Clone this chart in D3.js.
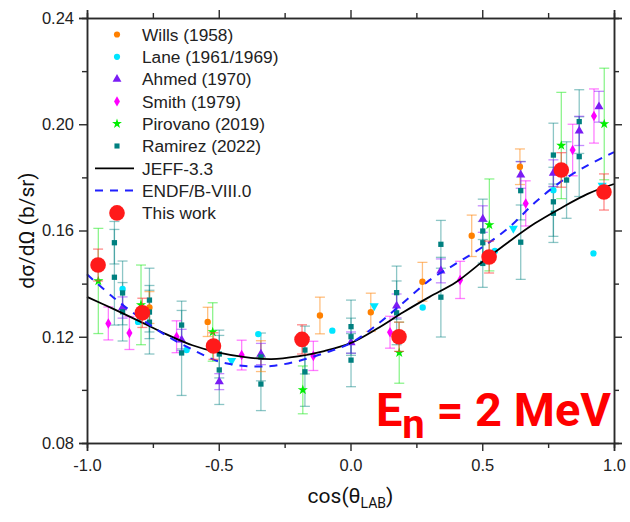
<!DOCTYPE html>
<html><head><meta charset="utf-8">
<script src="https://cdn.jsdelivr.net/npm/d3@7"></script>
<style>body{margin:0;background:#fff}svg{display:block}</style>
</head><body>
<svg id="c" width="630" height="522"></svg>
<script>
// ---------- data ----------
const xTicks = [-1.0, -0.5, 0.0, 0.5, 1.0];
const yTicks = [0.08, 0.12, 0.16, 0.20, 0.24];

const willsX = [-0.763, -0.542, -0.34, -0.116, 0.077, 0.273, 0.46, 0.643];
const willsY = [0.131, 0.1256, 0.1127, 0.128, 0.1292, 0.1407, 0.158, 0.184];
const willsE = [0.006, 0.0055, 0.0058, 0.0069, 0.0072, 0.0073, 0.0078, 0.0067];

const laneX = [-0.865, -0.806, -0.622, -0.35, -0.069, 0.274, 0.548, 0.77, 0.922];
const laneY = [0.138, 0.1256, 0.115, 0.121, 0.1223, 0.131, 0.1523, 0.1752, 0.1514];
const lane69X = [-0.451, 0.09, 0.618, 0.955];
const lane69Y = [0.111, 0.1316, 0.1608, 0.177];

const ahmedX = [-0.865, -0.641, -0.498, -0.34, 0.002, 0.175, 0.343, 0.502, 0.646, 0.77, 0.868, 0.943];
const ahmedY = [0.131, 0.1188, 0.1031, 0.1135, 0.1178, 0.1316, 0.1448, 0.1643, 0.1809, 0.1816, 0.1975, 0.2066];
const ahmedE = [0.004, 0.004, 0.003, 0.004, 0.004, 0.0045, 0.0045, 0.005, 0.005, 0.005, 0.0055, 0.0058];

const smithX = [-0.919, -0.839, -0.66, -0.413, -0.141, 0.15, 0.416, 0.665, 0.843, 0.924];
const smithY = [0.125, 0.1214, 0.12, 0.1131, 0.1128, 0.1217, 0.1414, 0.1702, 0.1903, 0.2031];
const smithE = [0.0062, 0.0062, 0.006, 0.0056, 0.0055, 0.006, 0.007, 0.0085, 0.0097, 0.0102];

const piroX = [-0.957, -0.795, -0.523, -0.181, 0.185, 0.527, 0.80, 0.963];
const piroY = [0.141, 0.132, 0.1218, 0.100, 0.114, 0.1621, 0.192, 0.2001];
const piroE = [0.0198, 0.015, 0.011, 0.009, 0.0115, 0.0173, 0.02, 0.021];

const ramX = [-0.896, -0.896, -0.865, -0.865, -0.763, -0.763, -0.763, -0.641, -0.641, -0.498, -0.498,
              -0.34, -0.34, -0.173, -0.173, 0.002, 0.002, 0.002, 0.175, 0.175, 0.343, 0.343,
              0.502, 0.502, 0.502, 0.646, 0.646, 0.77, 0.77, 0.77, 0.82, 0.868, 0.868];
const ramY = [0.1554, 0.1424, 0.1365, 0.1294, 0.1338, 0.1293, 0.1255, 0.1244, 0.1139, 0.1135, 0.1075,
              0.1124, 0.1022, 0.115, 0.1068, 0.1238, 0.12, 0.1112, 0.1366, 0.129, 0.1548, 0.1349,
              0.1598, 0.1554, 0.1476, 0.175, 0.1556, 0.1884, 0.1708, 0.1665, 0.179, 0.201, 0.1878];
const ramE = [0.008, 0.018, 0.012, 0.011, 0.012, 0.010, 0.012, 0.009, 0.016, 0.009, 0.013,
              0.009, 0.010, 0.009, 0.013, 0.010, 0.007, 0.010, 0.010, 0.012, 0.009, 0.015,
              0.012, 0.008, 0.009, 0.011, 0.014, 0.012, 0.013, 0.011, 0.0144, 0.012, 0.015];

const workX = [-0.958, -0.79, -0.52, -0.184, 0.184, 0.526, 0.80, 0.962];
const workY = [0.147, 0.129, 0.1165, 0.119, 0.120, 0.150, 0.1828, 0.1745];
const workE = [0.006, 0.0055, 0.005, 0.0055, 0.0055, 0.006, 0.0065, 0.0068];

const curveX = [-1, -0.9, -0.8, -0.7, -0.6, -0.5, -0.4, -0.3, -0.2, -0.1, 0, 0.1, 0.2, 0.3, 0.4, 0.5, 0.6, 0.7, 0.8, 0.9, 1.0];
const jeffY  = [0.135, 0.1305, 0.1258, 0.1210, 0.1168, 0.1140, 0.1123, 0.1116, 0.1126, 0.1146, 0.1176, 0.1230, 0.1292, 0.1350, 0.1405, 0.1482, 0.1557, 0.1627, 0.1685, 0.1738, 0.1775];
const endfY  = [0.1435, 0.1348, 0.1272, 0.1205, 0.1152, 0.1107, 0.1090, 0.1090, 0.1108, 0.1138, 0.1176, 0.1245, 0.1328, 0.1413, 0.1475, 0.1537, 0.1610, 0.1705, 0.1785, 0.1845, 0.1895];

// ---------- layout ----------
const svg = d3.select("#c");
const L = 87, R = 614, T = 18, B = 443;
const x = d3.scaleLinear().domain([-1, 1]).range([L, R]);
const y = d3.scaleLinear().domain([0.08, 0.24]).range([B, T]);
const frame = "#2a2a2a";
const tickFont = "'Liberation Sans', Arial, sans-serif";

const zip = (xs, ys, es) => xs.map((v, i) => ({x: v, y: ys[i], e: es ? es[i] : 0}));

function errBars(data, color, cap) {
  const g = svg.append("g").attr("stroke", color).attr("stroke-width", 1.3).attr("fill", "none");
  data.forEach(d => {
    const xp = x(d.x), y1 = y(d.y - d.e), y2 = y(d.y + d.e);
    g.append("line").attr("x1", xp).attr("x2", xp).attr("y1", y1).attr("y2", y2);
    g.append("line").attr("x1", xp - cap).attr("x2", xp + cap).attr("y1", y1).attr("y2", y1);
    g.append("line").attr("x1", xp - cap).attr("x2", xp + cap).attr("y1", y2).attr("y2", y2);
  });
}
function marks(data, type, size, color, rot) {
  const sym = d3.symbol().type(type).size(size);
  svg.append("g").selectAll("path").data(data).join("path")
    .attr("d", sym)
    .attr("transform", d => `translate(${x(d.x)},${y(d.y)})${rot ? " rotate(" + rot + ")" : ""}`)
    .attr("fill", color);
}

// ---------- error bars ----------
const ram = zip(ramX, ramY, ramE);
const piro = zip(piroX, piroY, piroE);
const wills = zip(willsX, willsY, willsE);
const smith = zip(smithX, smithY, smithE);
const ahmed = zip(ahmedX, ahmedY, ahmedE);
errBars(ram, "rgba(0,128,128,0.45)", 5);
errBars(piro, "rgba(0,230,0,0.45)", 5);
errBars(wills, "rgba(255,128,0,0.5)", 5);
errBars(smith, "rgba(255,0,255,0.5)", 5);
errBars(ahmed, "rgba(128,0,255,0.45)", 5);

// ---------- markers ----------
marks(wills, d3.symbolCircle, 32, "#ff8000");
marks(zip(laneX, laneY), d3.symbolCircle, 32, "#00e5ff");
marks(zip(lane69X, lane69Y), d3.symbolTriangle, 36, "#00e5ff", 180);
marks(ahmed, d3.symbolTriangle, 36, "#7a1cf5");
marks(smith, d3.symbolDiamond, 32, "#ff00ff");
marks(piro, d3.symbolStar, 32, "#00ee00");
marks(ram, d3.symbolSquare, 28, "#008080");

// ---------- curves ----------
const line = d3.line().x(d => x(d.x)).y(d => y(d.y)).curve(d3.curveCatmullRom);
svg.append("path").attr("d", line(zip(curveX, jeffY))).attr("fill", "none")
  .attr("stroke", "#000").attr("stroke-width", 1.8);
svg.append("path").attr("d", line(zip(curveX, endfY))).attr("fill", "none")
  .attr("stroke", "#1f1fff").attr("stroke-width", 2).attr("stroke-dasharray", "8,7");

// ---------- this work ----------
const work = zip(workX, workY, workE);
errBars(work, "rgba(255,60,60,0.6)", 5);
svg.append("g").selectAll("circle").data(work).join("circle")
  .attr("cx", d => x(d.x)).attr("cy", d => y(d.y)).attr("r", 7.8).attr("fill", "#ff1a1a");

// ---------- axes ----------
function axisG(axis, tr) {
  const g = svg.append("g").attr("transform", tr).call(axis);
  g.selectAll("path.domain").attr("stroke", frame).attr("stroke-width", 1.5);
  g.selectAll(".tick line").attr("stroke", frame).attr("stroke-width", 1.4);
  g.selectAll(".tick text").attr("font-family", tickFont).attr("font-size", 16.5).attr("fill", "#222");
  return g;
}
const xMinor = [-0.75, -0.25, 0.25, 0.75], yMinor = [0.10, 0.14, 0.18, 0.22];
axisG(d3.axisBottom(x).tickValues(xTicks).tickFormat(d3.format(".1f")).tickSizeOuter(0).tickSize(8).tickPadding(8), `translate(0,${B})`)
  .selectAll(".tick text").text(d => d3.format(".1f")(d).replace("−", "-"));
axisG(d3.axisBottom(x).tickValues(xMinor).tickFormat("").tickSizeOuter(0).tickSize(5), `translate(0,${B})`);
axisG(d3.axisTop(x).tickValues(xTicks).tickFormat("").tickSizeOuter(0).tickSize(8), `translate(0,${T})`);
axisG(d3.axisTop(x).tickValues(xMinor).tickFormat("").tickSizeOuter(0).tickSize(5), `translate(0,${T})`);
axisG(d3.axisLeft(y).tickValues(yTicks).tickFormat(d3.format(".2f")).tickSizeOuter(0).tickSize(8).tickPadding(5), `translate(${L},0)`);
axisG(d3.axisLeft(y).tickValues(yMinor).tickFormat("").tickSizeOuter(0).tickSize(5), `translate(${L},0)`);
axisG(d3.axisRight(y).tickValues(yTicks).tickFormat("").tickSizeOuter(0).tickSize(8), `translate(${R},0)`);
axisG(d3.axisRight(y).tickValues(yMinor).tickFormat("").tickSizeOuter(0).tickSize(5), `translate(${R},0)`);

// ---------- axis titles ----------
const titleFont = "Roboto, 'Open Sans', sans-serif";
svg.append("text").attr("transform", `translate(34,${(T + B) / 2}) rotate(-90)`)
  .attr("text-anchor", "middle").attr("font-family", titleFont).attr("font-size", 21).attr("fill", "#111")
  .text("dσ/dΩ (b/sr)");
const xt = svg.append("text").attr("x", (L + R) / 2).attr("y", 503).attr("text-anchor", "middle")
  .attr("font-family", titleFont).attr("font-size", 21).attr("fill", "#111");
xt.append("tspan").text("cos(θ");
xt.append("tspan").attr("font-size", 14).attr("dy", 5).text("LAB");
xt.append("tspan").attr("dy", -5).text(")");

// ---------- energy label ----------
const en = svg.append("text").attr("x", 611).attr("y", 426).attr("text-anchor", "end")
  .attr("font-family", "Roboto, sans-serif").attr("font-weight", 700).attr("font-size", 47).attr("fill", "#ff0000");
en.append("tspan").text("E");
en.append("tspan").attr("font-size", 40).attr("dy", 12).text("n");
en.append("tspan").attr("dy", -12).text(" = 2 MeV");

// ---------- legend ----------
const legendRows = ["Wills (1958)", "Lane (1961/1969)", "Ahmed (1970)", "Smith (1979)", "Pirovano (2019)",
                    "Ramirez (2022)", "JEFF-3.3", "ENDF/B-VIII.0", "This work"];
const lg = svg.append("g");
const ly = i => 34.5 + i * 22.3;
const symX = 117, txtX = 142;
const legSyms = [
  [d3.symbolCircle, 30, "#ff8000"], [d3.symbolCircle, 30, "#00e5ff"], [d3.symbolTriangle, 34, "#7a1cf5"],
  [d3.symbolDiamond, 30, "#ff00ff"], [d3.symbolStar, 30, "#00ee00"], [d3.symbolSquare, 26, "#008080"]];
legSyms.forEach((s, i) => lg.append("path").attr("d", d3.symbol().type(s[0]).size(s[1]))
  .attr("transform", `translate(${symX},${ly(i)})`).attr("fill", s[2]));
lg.append("line").attr("x1", 95).attr("x2", 134).attr("y1", ly(6)).attr("y2", ly(6)).attr("stroke", "#000").attr("stroke-width", 1.8);
lg.append("line").attr("x1", 95).attr("x2", 134).attr("y1", ly(7)).attr("y2", ly(7)).attr("stroke", "#1f1fff").attr("stroke-width", 2).attr("stroke-dasharray", "8,7");
lg.append("circle").attr("cx", symX).attr("cy", ly(8)).attr("r", 7.8).attr("fill", "#ff1a1a");
legendRows.forEach((t, i) => lg.append("text").attr("x", txtX).attr("y", ly(i)).attr("dy", "0.36em")
  .attr("font-family", tickFont).attr("font-size", 17.3).attr("fill", "#222").text(t));
</script>
</body></html>
